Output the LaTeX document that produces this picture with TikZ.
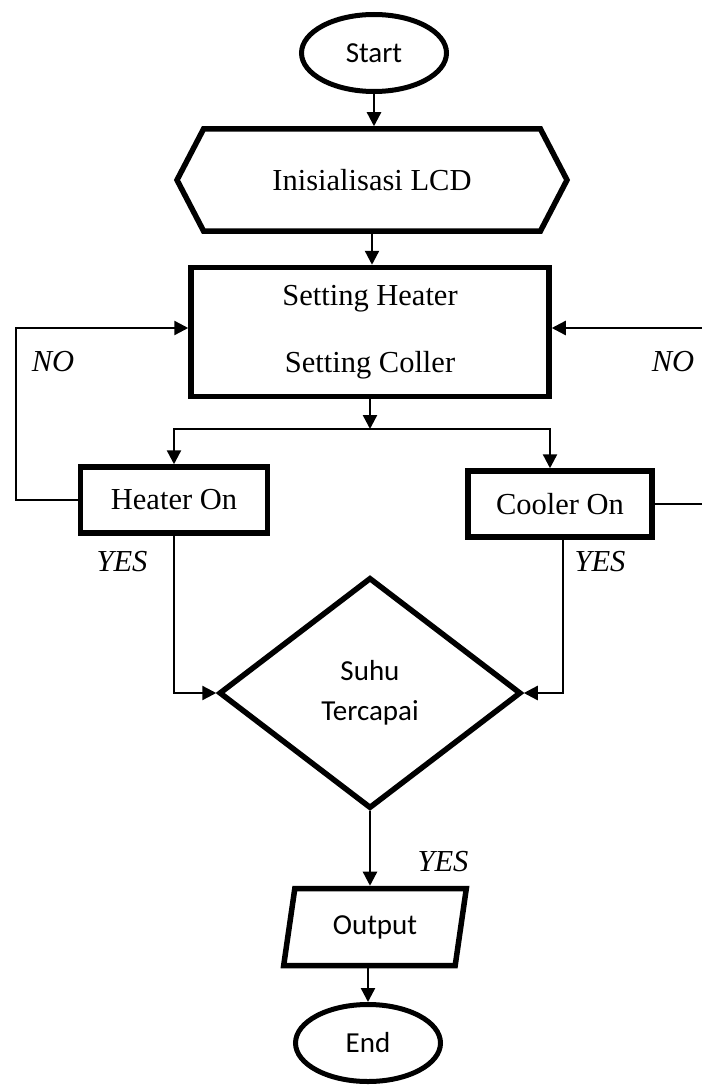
\documentclass[tikz,border=0pt]{standalone}
\usepackage{fontspec}
\setmainfont{Liberation Serif}
\newfontfamily\calibri{Carlito}
\usetikzlibrary{shapes.geometric,shapes.symbols,arrows.meta}

\begin{document}
\begin{tikzpicture}[x=1pt, y=-1pt]
  \tikzstyle{every node}=[font=\fontsize{30.5}{36}\selectfont]
  \tikzstyle{box}=[draw, line width=5.5pt, inner sep=0pt]
  \tikzstyle{terminal}=[box, line width=5pt, ellipse, minimum width=145pt, minimum height=77pt, font=\calibri\fontsize{29}{36}\selectfont]
  \tikzstyle{flow}=[line width=2.4pt, -{Triangle[length=14pt,width=14pt]}]
  \tikzstyle{answer}=[font=\itshape\fontsize{30.5}{36}\selectfont]

  \useasboundingbox (0,0) rectangle (701,1086);

  \node[terminal](start) at (374,53) {Start};
  \node[box, signal, signal to=east and west, signal pointer angle=125,
        minimum width=390pt, minimum height=102pt](init) at (372,180) {Inisialisasi LCD};
  \node[box, minimum width=358pt, minimum height=129pt, align=center,
        font=\fontsize{30.5}{67}\selectfont](setting) at (370,332) {Setting Heater\\Setting Coller};
  \node[box, minimum width=187pt, minimum height=66pt](heater) at (174,500) {Heater On};
  \node[box, minimum width=184pt, minimum height=66pt](cooler) at (560,504) {Cooler On};
  \node[box, diamond, minimum width=302pt, minimum height=231pt, align=center,
        font=\calibri\fontsize{29}{40}\selectfont](cond) at (370,693) {Suhu\\Tercapai};
  \node[box, trapezium, trapezium left angle=76, trapezium right angle=104, trapezium stretches=true,
        minimum width=183pt, minimum height=77pt, font=\calibri\fontsize{29}{36}\selectfont](out) at (375,927) {Output};
  \node[terminal](finish) at (368,1043) {End};

  % branch and loop points
  \coordinate (split) at (370,429);
  \coordinate (loopL) at (16,0);
  \coordinate (loopR) at (704,0);

  \draw[flow] (start.south) -- (start.south |- init.north);
  \draw[flow] (init.south) -- (init.south |- setting.north);
  \draw[flow] (setting.south) -- (split);
  \draw[flow] (split) -| (heater.north);
  \draw[flow] (split) -| ([xshift=-10pt]cooler.north);
  \draw[flow] (heater.west) -- (heater.west -| loopL) |- ([yshift=4pt]setting.west);
  \draw[flow] (cooler.east) -- (cooler.east -| loopR) |- ([yshift=4pt]setting.east);
  \draw[flow] (heater.south) |- (cond.west);
  \draw[flow] ([xshift=3pt]cooler.south) |- (cond.east);
  \draw[flow] (cond.south) -- (cond.south |- out.north);
  \draw[flow] (out.south -| finish.north) -- (finish.north);

  \node[answer](noL) at (53,362) {NO};
  \node[answer](noR) at (673,362) {NO};
  \node[answer](yesL) at (122,562) {YES};
  \node[answer](yesR) at (600,562) {YES};
  \node[answer](yesD) at (443,862) {YES};
\end{tikzpicture}
\end{document}
